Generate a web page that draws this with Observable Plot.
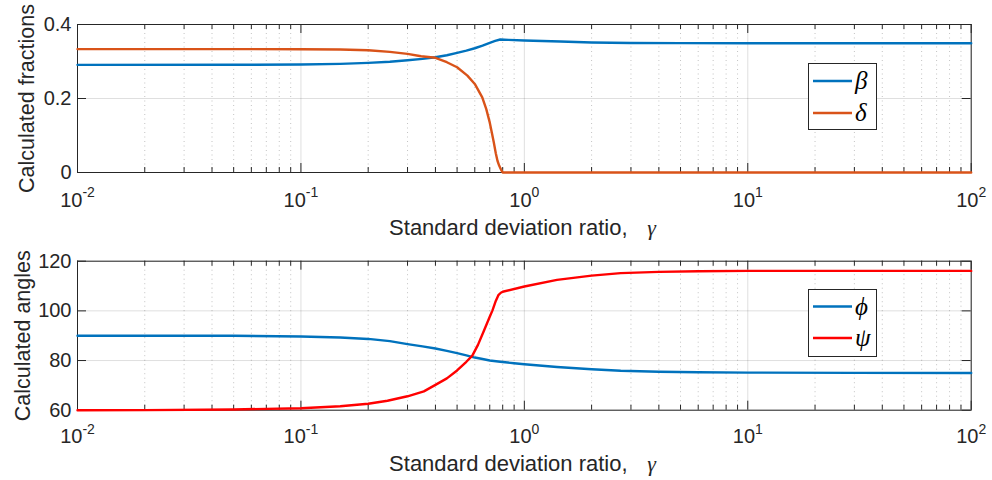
<!DOCTYPE html>
<html>
<head>
<meta charset="utf-8">
<script src="https://cdn.jsdelivr.net/npm/d3@7"></script>
<script src="https://cdn.jsdelivr.net/npm/@observablehq/plot@0.6"></script>
<style>
  body { margin: 0; background: #fff; }
  #wrap { position: relative; width: 992px; height: 480px; font-family: "Liberation Sans", Arial, sans-serif; }
  #wrap svg.plot { display: block; }
  .leg { position: absolute; background: #fff; border: 1px solid #262626; box-sizing: border-box; }
</style>
</head>
<body>
<div id="wrap"></div>
<script>
// ---------- data ----------
const xDecades = [0.01, 0.1, 1, 10, 100];
const xExponents = ["-2", "-1", "0", "1", "2"];
const yTicksTop = [0, 0.2, 0.4];
const yTickLabelsTop = ["0", "0.2", "0.4"];
const yTicksBottom = [60, 80, 100, 120];
const yTickLabelsBottom = ["60", "80", "100", "120"];

const gammaBeta = [0.01, 0.05, 0.1, 0.15, 0.2, 0.25, 0.3, 0.35, 0.4, 0.45, 0.5, 0.55, 0.6, 0.65, 0.7, 0.74, 0.78, 0.85, 1, 1.45, 2, 3, 5, 10, 100];
const beta      = [0.291, 0.2912, 0.2917, 0.2935, 0.2962, 0.2995, 0.3033, 0.3072, 0.3115, 0.317, 0.3233, 0.3293, 0.3358, 0.343, 0.3504, 0.3555, 0.3594, 0.3584, 0.3567, 0.354, 0.3515, 0.3502, 0.3497, 0.3495, 0.3495];

const gammaDelta = [0.01, 0.05, 0.1, 0.15, 0.2, 0.25, 0.3, 0.345, 0.4, 0.45, 0.5, 0.556, 0.6, 0.648, 0.675, 0.7, 0.715, 0.73, 0.745, 0.758, 0.772, 0.786, 0.8, 1, 10, 100];
const delta      = [0.3335, 0.3335, 0.3333, 0.3325, 0.3305, 0.326, 0.3207, 0.3142, 0.310, 0.298, 0.2844, 0.2619, 0.2394, 0.2031, 0.172, 0.1354, 0.108, 0.0813, 0.052, 0.0317, 0.018, 0.008, 0, 0, 0, 0];

const gammaPhi = [0.01, 0.05, 0.1, 0.15, 0.2, 0.25, 0.3, 0.35, 0.4, 0.45, 0.5, 0.55, 0.6, 0.65, 0.7, 0.78, 0.9, 1, 1.4, 2, 2.7, 4, 6, 10, 30, 100];
const phi      = [90, 89.95, 89.7, 89.3, 88.7, 87.8, 86.6, 85.7, 84.85, 83.9, 82.97, 82.1, 81.2, 80.6, 80.0, 79.5, 78.9, 78.5, 77.4, 76.5, 75.9, 75.5, 75.3, 75.15, 75.05, 75.0];

const gammaPsi = [0.01, 0.02, 0.05, 0.1, 0.15, 0.2, 0.244, 0.3, 0.355, 0.4, 0.45, 0.5, 0.55, 0.585, 0.62, 0.66, 0.7, 0.72, 0.745, 0.765, 0.785, 0.8, 1, 1.4, 2, 2.7, 4, 6, 10, 100];
const psi      = [60, 60.05, 60.3, 60.8, 61.6, 62.6, 63.8, 65.6, 67.6, 70.2, 72.8, 76.0, 79.5, 82.0, 86.3, 92.1, 97.6, 100.2, 104.0, 106.3, 107.3, 107.7, 109.8, 112.5, 114.2, 115.2, 115.7, 115.95, 116.1, 116.1];

const seriesTop = [
  {label: "β", gamma: gammaBeta, values: beta, color: "#0072BD"},
  {label: "δ", gamma: gammaDelta, values: delta, color: "#D95319"}
];
const seriesBottom = [
  {label: "ϕ", gamma: gammaPhi, values: phi, color: "#0072BD"},
  {label: "ψ", gamma: gammaPsi, values: psi, color: "#FF0000"}
];
const yTitleTop = "Calculated fractions";
const yTitleBottom = "Calculated angles";
const xTitle = "Standard deviation ratio,";
const xSymbol = "γ";

// ---------- helpers ----------
const minor = [];
for (let e = -2; e < 2; e++) for (let m = 2; m <= 9; m++) minor.push(m * Math.pow(10, e));

const INK = "#262626";
const FONT = "Liberation Sans, Arial, sans-serif";
const SERIF = "Liberation Serif, Times New Roman, serif";

function panel({series, yDomain, yTicks, yTickLabels, yTitle, marginTop, marginBottom, yTitleDx, labDy, expDy, titleDy}) {
  const width = 992, height = 240, marginLeft = 77, marginRight = 21.3;
  const fw = width - marginLeft - marginRight;
  const fh = height - marginTop - marginBottom;
  const tickMajor = 9, tickMinor = 5;
  const neg = xDecades.map((d, i) => ({d, e: xExponents[i]})).filter(o => o.e.startsWith("-"));
  const pos = xDecades.map((d, i) => ({d, e: xExponents[i]})).filter(o => !o.e.startsWith("-"));
  const w10 = 20 * 1.112;
  const offNeg = -(w10 + 14 * 0.889) / 2 + w10;
  const offPos = -(w10 + 14 * 0.556) / 2 + w10;
  const marks = [
    // grids
    Plot.ruleX(minor, {x: d => d, stroke: INK, strokeOpacity: 0.28, strokeDasharray: "1,3.5", strokeWidth: 1}),
    Plot.ruleX(xDecades, {x: d => d, stroke: INK, strokeOpacity: 0.15, strokeWidth: 1}),
    Plot.ruleY(yTicks, {y: d => d, stroke: INK, strokeOpacity: 0.15, strokeWidth: 1}),
    Plot.frame({stroke: INK, strokeWidth: 1}),
    // ticks (inward, both sides)
    Plot.ruleX(xDecades, {x: d => d, insetTop: fh - tickMajor, stroke: INK}),
    Plot.ruleX(xDecades, {x: d => d, insetBottom: fh - tickMajor, stroke: INK}),
    Plot.ruleX(minor, {x: d => d, insetTop: fh - tickMinor, stroke: INK}),
    Plot.ruleX(minor, {x: d => d, insetBottom: fh - tickMinor, stroke: INK}),
    Plot.ruleY(yTicks, {y: d => d, insetRight: fw - tickMajor, stroke: INK}),
    Plot.ruleY(yTicks, {y: d => d, insetLeft: fw - tickMajor, stroke: INK}),
    // y tick labels
    Plot.text(yTicks, {y: d => d, frameAnchor: "left", dx: -6, textAnchor: "end", text: (d, i) => yTickLabels[i], fontSize: 20, fill: INK}),
    // x tick labels 10^e
    Plot.text(neg, {x: "d", frameAnchor: "bottom", text: () => "10", textAnchor: "end", lineAnchor: "bottom", dx: offNeg, dy: labDy, fontSize: 20, fill: INK}),
    Plot.text(neg, {x: "d", frameAnchor: "bottom", text: "e", textAnchor: "start", lineAnchor: "bottom", dx: offNeg, dy: expDy, fontSize: 14, fill: INK}),
    Plot.text(pos, {x: "d", frameAnchor: "bottom", text: () => "10", textAnchor: "end", lineAnchor: "bottom", dx: offPos, dy: labDy, fontSize: 20, fill: INK}),
    Plot.text(pos, {x: "d", frameAnchor: "bottom", text: "e", textAnchor: "start", lineAnchor: "bottom", dx: offPos, dy: expDy, fontSize: 14, fill: INK}),
    // titles
    Plot.text([xTitle], {frameAnchor: "bottom", text: d => d, textAnchor: "middle", lineAnchor: "bottom", dx: -16, dy: titleDy, fontSize: 22, fill: INK}),
    Plot.text([xSymbol], {frameAnchor: "bottom", text: d => d, textAnchor: "start", lineAnchor: "bottom", dx: 123, dy: titleDy, fontSize: 22, fontStyle: "italic", fontFamily: SERIF, fill: INK}),
    Plot.text([yTitle], {frameAnchor: "left", text: d => d, rotate: -90, textAnchor: "middle", lineAnchor: "bottom", dx: yTitleDx, fontSize: 21.5, fill: INK}),
    // data lines
    ...series.map(s => Plot.line(s.gamma.map((g, i) => ({g, v: s.values[i]})), {x: "g", y: "v", stroke: s.color, strokeWidth: 2.4, strokeLinejoin: "round"}))
  ];
  const svg = Plot.plot({
    width, height, marginLeft, marginRight, marginTop, marginBottom,
    style: {fontFamily: FONT, background: "transparent", overflow: "visible"},
    x: {type: "log", domain: [0.01, 100], axis: null},
    y: {domain: yDomain, axis: null},
    marks
  });
  svg.classList.add("plot");
  return svg;
}

function legend(series, left, top, w, h, lineYs) {
  const div = document.createElement("div");
  div.className = "leg";
  Object.assign(div.style, {left: left + "px", top: top + "px", width: w + "px", height: h + "px"});
  let inner = `<svg width="${w}" height="${h}" style="position:absolute;left:-1px;top:-1px">`;
  series.forEach((s, i) => {
    const y = lineYs[i];
    inner += `<line x1="5" x2="44" y1="${y}" y2="${y}" stroke="${s.color}" stroke-width="2.5"/>`;
    inner += `<text x="47" y="${y + 8}" font-family="${SERIF}" font-style="italic" font-size="25" fill="#000">${s.label}</text>`;
  });
  inner += `</svg>`;
  div.innerHTML = inner;
  return div;
}

const wrap = document.getElementById("wrap");
wrap.appendChild(panel({series: seriesTop, yDomain: [0, 0.4], yTicks: yTicksTop, yTickLabels: yTickLabelsTop, yTitle: yTitleTop,
  marginTop: 24, marginBottom: 68, yTitleDx: -44, labDy: 34, expDy: 24.5, titleDy: 62}));
wrap.appendChild(panel({series: seriesBottom, yDomain: [60, 120], yTicks: yTicksBottom, yTickLabels: yTickLabelsBottom, yTitle: yTitleBottom,
  marginTop: 20.7, marginBottom: 70.3, yTitleDx: -48, labDy: 33, expDy: 23.5, titleDy: 60.3}));
wrap.appendChild(legend(seriesTop, 808, 63, 69, 67, [18, 50]));
wrap.appendChild(legend(seriesBottom, 808, 289, 69, 68, [17.5, 49]));
</script>
</body>
</html>
